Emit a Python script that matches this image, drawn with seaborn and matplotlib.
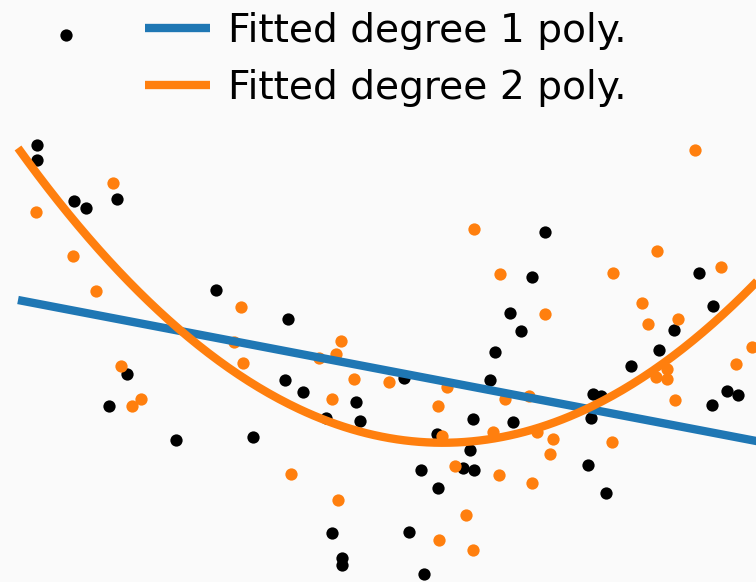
import numpy as np
import pandas as pd
import matplotlib
matplotlib.use("Agg")
import matplotlib.pyplot as plt
import seaborn as sns
from matplotlib.lines import Line2D

# ---- data ----
black_x = [0.38, 0.38, 1.12, 1.36, 1.98, 2.18, 1.82, 3.16, 3.96, 4.70, 5.40, 5.34, 5.70,
           6.16, 6.76, 6.84, 6.28, 6.48, 6.48, 7.82, 8.12, 7.72, 8.06, 8.40, 8.38, 8.90,
           9.12, 9.04, 9.10, 9.44, 9.54, 9.84, 10.06, 10.28, 10.54, 9.90, 11.40, 11.76,
           11.50, 11.66, 11.46, 12.26, 12.82, 13.12, 13.62, 13.90, 13.88, 14.18, 14.40]
black_y = [6.50, 6.20, 5.38, 5.24, 5.42, 1.92, 1.28, 0.60, 3.60, 0.66, 3.02, 1.80, 1.56,
           1.04, 1.36, 0.98, -1.26, -1.76, -1.90, -1.24, -2.08, 1.84, 0.00, -0.36, 0.72, 0.04,
           0.00, 0.40, 1.02, 1.80, 2.36, 3.14, 2.78, 3.86, 4.76, 0.96, 0.10, -0.46,
           1.52, 1.48, 1.04, 2.08, 2.40, 2.80, 3.94, 3.28, 1.30, 1.58, 1.50]

orange_x = [0.36, 1.90, 1.10, 1.56, 4.46, 4.32, 6.46, 6.36, 2.06, 2.28, 2.46, 4.50, 6.02,
            6.72, 6.28, 5.46, 6.40, 13.54, 9.12, 12.78, 14.06, 9.64, 11.90, 12.48, 12.60,
            13.20, 10.54, 14.68, 7.42, 8.58, 9.74, 10.22, 12.76, 12.98, 12.98, 14.36, 13.14,
            8.40, 8.48, 9.50, 10.38, 10.70, 10.64, 11.88, 8.74, 9.62, 10.28, 8.96, 8.42, 9.10]
orange_y = [5.16, 5.74, 4.28, 3.58, 3.26, 2.56, 2.58, 2.32, 2.08, 1.28, 1.42, 2.14, 2.24,
            1.82, 1.42, -0.08, -0.60, 6.40, 4.82, 4.38, 4.06, 3.92, 3.94, 3.34, 2.92,
            3.02, 3.12, 2.46, 1.76, 1.66, 1.42, 1.48, 1.86, 2.02, 1.82, 2.12, 1.40,
            1.28, 0.68, 0.76, 0.76, 0.62, 0.32, 0.56, 0.08, -0.10, -0.26, -0.90, -1.40, -1.60]

# fitted polynomial coefficients (highest power first)
fit1_coef = [-0.191, 3.40]
fit2_coef = [0.0817, -1.388, 6.44]
labels = ["Fitted degree 1 poly.", "Fitted degree 2 poly."]

bg = "#fafafa"
fig = plt.figure(figsize=(7.56, 5.82), dpi=100, facecolor=bg)
ax = fig.add_axes([0, 0, 1, 1])
ax.set_facecolor(bg)

sns.scatterplot(x=black_x, y=black_y, color="black", s=78, linewidth=0, ax=ax, zorder=2)
sns.scatterplot(x=orange_x, y=orange_y, color="#ff7f0e", s=78, linewidth=0, ax=ax, zorder=2)

xs = np.linspace(0, 15, 300)
df = pd.DataFrame({"x": xs,
                   "fit1": np.polyval(fit1_coef, xs),
                   "fit2": np.polyval(fit2_coef, xs)})
sns.lineplot(data=df, x="x", y="fit1", color="#1f77b4", lw=6, ax=ax, zorder=3,
             solid_capstyle="butt")
sns.lineplot(data=df, x="x", y="fit2", color="#ff7f0e", lw=6, ax=ax, zorder=3,
             solid_capstyle="butt")

ax.set_xlim(-0.36, 14.76)
ax.set_ylim(-2.24, 9.4)
ax.axis("off")

dot = ax.collections[0]
blank = Line2D([], [], alpha=0)
h1 = Line2D([], [], color="#1f77b4", lw=6, solid_capstyle="butt")
h2 = Line2D([], [], color="#ff7f0e", lw=6, solid_capstyle="butt")
fig.legend([dot, blank, h1, h2], ["", "", labels[0], labels[1]], ncol=2,
           loc="upper left", bbox_to_anchor=(0.023, 1.006), frameon=False,
           fontsize=28.2, handlelength=1.66, handletextpad=0.46, columnspacing=0.75,
           labelspacing=0.48, scatteryoffsets=[0.25], borderaxespad=0)

fig.savefig("out.png", dpi=100, facecolor=bg)
